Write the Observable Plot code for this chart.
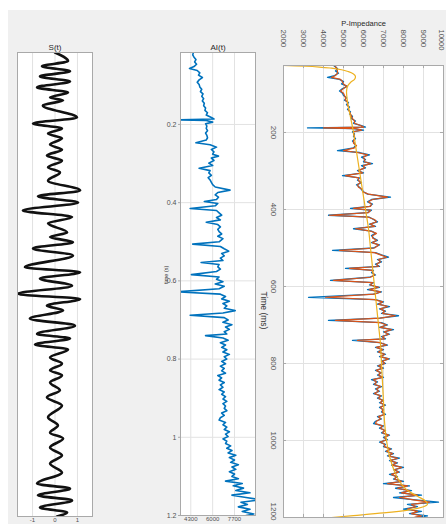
<!DOCTYPE html>
<html><head><meta charset="utf-8">
<script src="https://cdn.jsdelivr.net/npm/d3@7"></script>
<script src="https://cdn.jsdelivr.net/npm/@observablehq/plot@0.6"></script>
<style>
html,body{margin:0;padding:0;width:446px;height:524px;overflow:hidden;background:#ffffff;}
#fig{position:absolute;left:8px;top:10px;width:438px;height:514px;background:#f0f0f0;}
.pl{position:absolute;top:0;}
</style></head><body>
<div id="fig"></div>
<script>
// ---------- S(t) seismic trace (extrema) ----------
const sTime = [
0.016,0.038,0.051,0.064,0.077,0.090,0.105,0.118,0.131,0.138,
0.151,0.182,0.197,0.210,0.223,0.235,0.251,0.264,0.279,0.292,
0.309,0.322,0.343,0.368,0.383,0.399,0.419,0.436,0.452,0.475,
0.487,0.500,0.516,0.534,0.564,0.577,0.593,0.611,0.632,0.645,
0.662,0.674,0.695,0.713,0.734,0.746,0.761,0.774,0.794,0.810,
0.827,0.840,0.858,0.878,0.896,0.917,0.947,0.968,0.986,1.001,
1.024,1.044,1.065,1.088,1.116,1.129,1.146,1.159,1.177,1.190,
1.200];
const sAmp = [
0,0.58,-0.58,0.67,-0.67,0.67,-0.80,0.58,-0.22,0.36,
-0.54,0.98,-0.98,0.31,-0.31,0.31,-0.22,0.31,-0.36,0.31,
-0.31,0.22,-0.31,1.12,-0.76,1.03,-1.43,0.76,-0.31,0.54,
-0.22,0.80,-0.98,0.80,-1.34,1.12,-0.67,0.76,-1.65,1.12,
-0.36,0.36,-1.12,0.89,-0.80,0.67,-0.89,0.58,-0.22,0.31,
-0.22,0.31,-0.22,0.22,-0.36,0.31,-0.31,0.13,-0.22,0.36,
-0.22,0.31,-0.22,0.31,-0.80,0.67,-0.76,0.76,-0.67,0.54,
0.09];
const sTicks = [-1, 0, 1];
const sTickLabels = ["-1", "0", "1"];

// ---------- impedance log (ms) ----------
const aiTime = [
16,22,28,34,40,46,52,57,62,68,
74,80,86,92,98,104,110,116,122,128,
134,140,146,152,158,164,170,176,182,186,
188,190,194,198,204,210,216,222,228,234,
240,247,252,258,264,270,276,281,286,292,
299,305,312,318,324,330,336,342,348,354,
360,368,374,380,386,392,397,402,408,415,
420,426,432,438,444,450,456,462,468,474,
480,486,492,500,506,512,518,524,530,536,
542,548,553,558,564,570,576,584,590,596,
602,608,614,620,628,634,640,646,652,658,
664,670,676,682,688,694,700,706,712,718,
724,730,736,740,746,752,758,764,770,776,
782,788,794,800,806,812,818,824,830,836,
842,848,854,860,866,872,878,884,890,896,
902,908,914,920,926,932,938,944,950,956,
962,968,974,980,986,992,998,1004,1010,1016,
1022,1028,1034,1040,1046,1052,1058,1064,1070,1076,
1082,1088,1094,1100,1106,1112,1118,1124,1130,1136,
1142,1148,1154,1160,1166,1172,1178,1184,1190,1196,
1200];
const aiWell = [
4500,4450,4550,4700,4600,4750,4550,4200,4800,5000,
4900,5200,4950,4800,4950,5000,5150,5050,5250,5150,
5300,5200,5350,5300,5450,5400,5600,5500,5900,6100,
3200,5500,6000,5450,5550,5500,5600,5450,5550,5600,
5500,4700,5800,6300,5900,6100,6000,6450,5900,6100,
5700,6000,4950,5800,5700,5900,5650,5800,5900,6000,
6200,7350,6400,6200,6450,6300,5350,6400,6200,4250,
6300,6500,6700,6300,6600,5500,6400,6600,6400,6500,
6700,6400,6800,6500,4450,6600,6900,7250,6700,6900,
6600,6800,5100,6500,6400,6600,6300,4350,6500,6300,
6800,6200,6900,6500,3250,6600,7000,6700,7300,6800,
7100,6900,7750,6800,4250,6900,7200,6800,7500,7000,
7300,6900,7100,5450,6800,7200,6600,7000,6700,7100,
6800,7300,6900,7100,6700,7000,6600,6900,6700,7000,
6400,6700,6500,6900,6600,6800,6500,6900,6700,7000,
6800,7100,6800,7000,6900,7100,6700,6900,6600,6500,
7000,6800,7100,6900,7300,7000,7200,6800,7100,7000,
7400,7100,7500,7200,7800,7300,7700,7400,8000,7500,
7800,7300,7700,7500,8000,7000,8300,7600,8400,7800,
8900,7500,8600,9750,8200,8700,8000,8900,8300,9200,
8600];
const aiInverted = [
4550,4500,4600,4650,4700,4700,4600,4400,4850,4950,
5000,5150,5000,4850,5000,5050,5100,5100,5200,5200,
5250,5250,5300,5350,5400,5450,5550,5550,5850,6000,
4000,5600,5900,5500,5500,5550,5550,5500,5500,5650,
5550,5000,5700,6200,6000,6050,6050,6350,6000,6050,
5750,5950,5100,5750,5750,5850,5700,5750,5950,5950,
6250,7200,6450,6250,6400,6350,5500,6350,6250,4300,
6250,6550,6650,6350,6550,5600,6350,6650,6450,6450,
6650,6450,6750,6550,4800,6550,6850,7150,6750,6850,
6650,6750,5300,6450,6450,6550,6350,4500,6450,6350,
6750,6300,6850,6550,4100,6550,6950,6750,7200,6850,
7050,6950,7600,6850,4600,6850,7150,6850,7400,7050,
7250,6950,7050,5700,6850,7150,6650,6950,6750,7050,
6850,7250,6950,7050,6750,6950,6650,6850,6750,6950,
6500,6650,6550,6850,6650,6750,6550,6850,6750,6950,
6850,7050,6850,6950,6950,7050,6750,6850,6650,6600,
6950,6850,7050,6950,7250,7050,7150,6850,7050,7050,
7350,7150,7450,7250,7700,7350,7650,7450,7900,7550,
7750,7400,7650,7550,7900,7200,8200,7700,8300,7900,
8700,7800,8500,9300,8400,8600,8200,8700,8400,8900,
8500];
// low-frequency model
const lfTime = [26,27,28,30,33,37,42,48,55,62,
70,80,95,120,160,200,250,300,350,400,
450,500,550,600,650,700,750,800,850,900,
950,1000,1050,1080,1110,1130,1145,1157,1165,1172,
1180,1188,1195,1200];
const lfZ = [2000,2600,3100,3800,4400,4900,5250,5500,5600,5550,
5350,5200,5150,5200,5350,5500,5650,5800,5950,6100,
6250,6350,6450,6550,6650,6750,6850,6900,6950,7000,
7050,7150,7350,7550,7850,8200,8700,9100,9200,9000,
8300,7000,5500,4400];

const aiTicks = [4300, 6000, 7700];
const aiTickLabels = ["4300", "6000", "7700"];
const secTicks = [0.2, 0.4, 0.6, 0.8, 1, 1.2];
const secTickLabels = ["0.2", "0.4", "0.6", "0.8", "1", "1.2"];
const impTicks = [2000,3000,4000,5000,6000,7000,8000,9000,10000];
const impTickLabels = ["2000","3000","4000","5000","6000","7000","8000","9000","10000"];
const msTicks = [200, 400, 600, 800, 1000, 1200];
const msTickLabels = ["200","400","600","800","1000","1200"];

// ---------- drawing ----------
const font = "'Liberation Sans', Arial, Helvetica, sans-serif";
const gridC = "#e2e2e2", frameC = "#a9a9a9", txtC = "#505050", titleC = "#262626";
const BLUE = "#0072BD", ORANGE = "#D95319", YELLOW = "#EDB120";
const baseStyle = {background:"transparent", fontFamily:font, fontSize:"7px", color:txtC, overflow:"visible"};
function place(svg, left){ svg.classList.add("pl"); svg.style.left = left + "px"; document.body.appendChild(svg); }

const sData = sTime.map((t, i) => ({t, a: sAmp[i]}));
const aiData = aiTime.map((t, i) => ({ms: t, s: t / 1000, well: aiWell[i], inv: aiInverted[i]}));
const lfData = lfTime.map((t, i) => ({ms: t, z: lfZ[i]}));
const impLbl = d => impTickLabels[impTicks.indexOf(d)];
const msLbl = d => msTickLabels[msTicks.indexOf(d)];

// Panel 1 : S(t)
place(Plot.plot({
  width: 100, height: 540, marginLeft: 17, marginRight: 8, marginTop: 52, marginBottom: 24,
  style: baseStyle,
  x: {domain: [-1.67, 1.67]},
  y: {domain: [0.016, 1.2], reverse: true, axis: null},
  marks: [
    Plot.frame({fill: "white", stroke: null}),
    Plot.gridX(sTicks, {stroke: gridC, strokeOpacity: 1}),
    Plot.line(sData, {x: "a", y: "t", stroke: "#111", strokeWidth: 2.6, curve: "monotone-y", clip: true}),
    Plot.frame({stroke: frameC}),
    Plot.axisX(sTicks, {anchor: "bottom", tickSize: 0, tickPadding: 1, label: null, fill: txtC, fontSize: 6,
      tickFormat: d => sTickLabels[sTicks.indexOf(d)]}),
    Plot.text(["S(t)"], {text: d => d, frameAnchor: "top", dy: -8, fontSize: 8, fill: titleC})
  ]
}), 0);

// Panel 2 : AI(t)
place(Plot.plot({
  width: 130, height: 540, marginLeft: 50, marginRight: 5, marginTop: 52, marginBottom: 25,
  style: baseStyle,
  x: {domain: [3500, 9330]},
  y: {domain: [0.016, 1.2], reverse: true},
  marks: [
    Plot.frame({fill: "white", stroke: null}),
    Plot.gridX(aiTicks, {stroke: gridC, strokeOpacity: 1}),
    Plot.gridY(secTicks, {stroke: gridC, strokeOpacity: 1}),
    Plot.line(aiData, {x: "well", y: "s", stroke: BLUE, strokeWidth: 1.6, clip: true}),
    Plot.frame({stroke: frameC}),
    Plot.axisX(aiTicks, {anchor: "bottom", tickSize: 0, tickPadding: 1, label: null, fill: txtC, fontSize: 6,
      tickFormat: d => aiTickLabels[aiTicks.indexOf(d)]}),
    Plot.axisY(secTicks, {anchor: "left", tickSize: 2, tickPadding: 2, label: null, stroke: frameC, fill: txtC,
      tickFormat: d => secTickLabels[secTicks.indexOf(d)]}),
    Plot.text(["time (s)"], {text: d => d, frameAnchor: "left", dx: -14, rotate: -90, fontSize: 5.5, fill: "#333"}),
    Plot.text(["AI(t)"], {text: d => d, frameAnchor: "top", dy: -8, fontSize: 8, fill: titleC})
  ]
}), 130);

// Panel 3 : P-Impedance
place(Plot.plot({
  width: 196, height: 540, marginLeft: 33, marginRight: 3, marginTop: 65, marginBottom: 23,
  style: baseStyle,
  x: {domain: [2000, 10000], axis: null},
  y: {domain: [26, 1200], reverse: true, axis: null},
  marks: [
    Plot.frame({fill: "white", stroke: null}),
    Plot.gridX(impTicks, {stroke: gridC, strokeOpacity: 1}),
    Plot.gridY(msTicks, {stroke: gridC, strokeOpacity: 1}),
    Plot.line(aiData, {x: "well", y: "ms", stroke: BLUE, strokeWidth: 1.3, clip: true}),
    Plot.line(aiData, {x: "inv", y: "ms", stroke: ORANGE, strokeWidth: 1.2, clip: true}),
    Plot.line(lfData, {x: "z", y: "ms", stroke: YELLOW, strokeWidth: 1.2, curve: "monotone-y", clip: true}),
    Plot.frame({stroke: frameC}),
    Plot.ruleX(impTicks, {x: d => d, y1: 1200, y2: 1192, stroke: frameC}),
    Plot.ruleX(impTicks, {x: d => d, y1: 26, y2: 34, stroke: frameC}),
    Plot.ruleY(msTicks, {y: d => d, x1: 2000, x2: 2150, stroke: frameC}),
    Plot.ruleY(msTicks, {y: d => d, x1: 10000, x2: 9850, stroke: frameC}),
    Plot.text(impTicks.slice(0, -1), {x: d => d, text: impLbl, frameAnchor: "top", dy: -36,
      rotate: 90, textAnchor: "start", lineAnchor: "middle", fontSize: 8, fill: txtC}),
    Plot.text(impTicks.slice(-1), {x: d => d, text: impLbl, frameAnchor: "top", dy: -36, dx: -2,
      rotate: 90, textAnchor: "start", lineAnchor: "middle", fontSize: 7.5, fill: txtC}),
    Plot.text(msTicks.slice(0, -1), {y: d => d, text: msLbl, frameAnchor: "left", dx: -10,
      rotate: 90, textAnchor: "middle", lineAnchor: "middle", fontSize: 8, fill: txtC}),
    Plot.text(msTicks.slice(-1), {y: d => d, text: msLbl, frameAnchor: "left", dx: -10, dy: -6,
      rotate: 90, textAnchor: "middle", lineAnchor: "middle", fontSize: 8, fill: txtC}),
    Plot.text(["Time (ms)"], {text: d => d, frameAnchor: "left", dx: -20, rotate: 90, fontSize: 8.5, fill: "#333"}),
    Plot.text(["P-Impedance"], {text: d => d, frameAnchor: "top", dy: -45, fontSize: 7.5, fill: titleC})
  ]
}), 250);
</script>
</body></html>
